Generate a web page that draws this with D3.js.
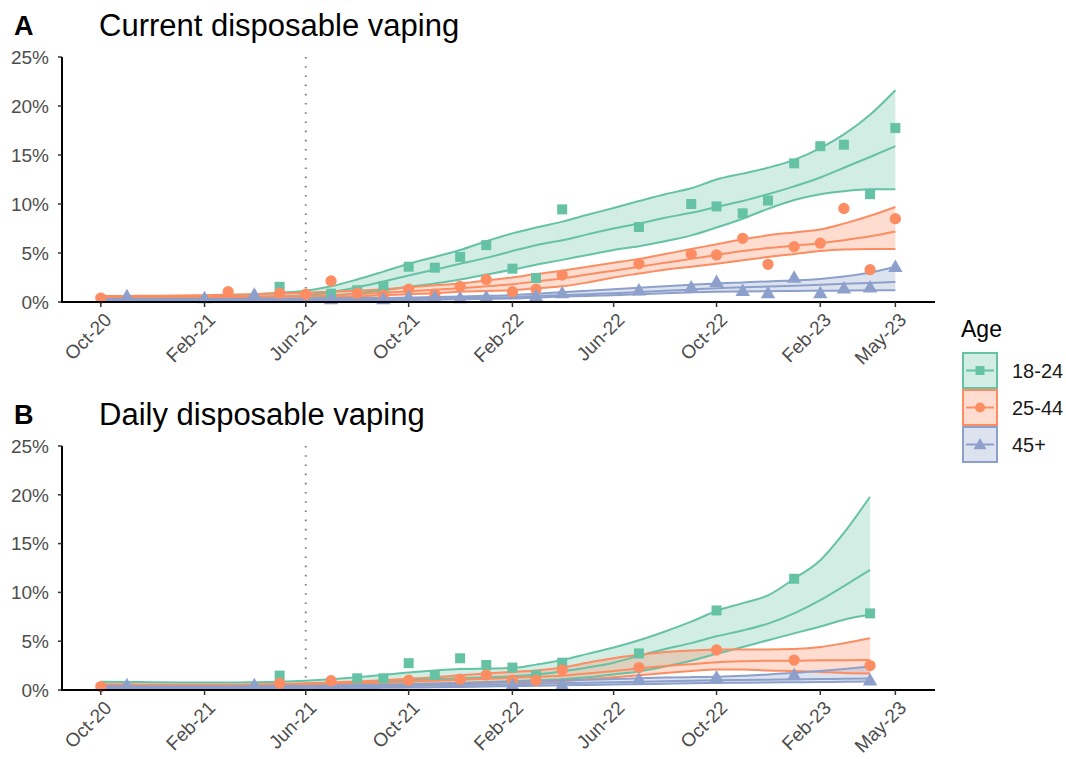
<!DOCTYPE html>
<html>
<head>
<meta charset="utf-8">
<script src="https://cdn.jsdelivr.net/npm/d3@7"></script>
<style>
  html, body { margin: 0; padding: 0; background: #fff; }
  svg { display: block; font-family: "Liberation Sans", Arial, sans-serif; }
</style>
</head>
<body>
<svg id="chart" width="1066" height="759"></svg>
<script>
// ---------------- DATA ----------------
// monthly time points, Oct-20 (index 0) .. May-23 (index 31)
const startMonth = "2020-10";
const tickLabels = ["Oct-20","Feb-21","Jun-21","Oct-21","Feb-22","Jun-22","Oct-22","Feb-23","May-23"];
const yTicks = [0, 5, 10, 15, 20, 25];
const ageGroups = ["18-24", "25-44", "45+"];
const ageColors = ["#66c2a5", "#fc8d62", "#8da0cb"];
const panelTitles = ["Current disposable vaping", "Daily disposable vaping"];
const panelLetters = ["A", "B"];
const policyMarker = "Jun-21";

// Panel A: current disposable vaping (%) — model fit, lower & upper CI
const curFit1824 = [0.3,0.3,0.3,0.32,0.35,0.4,0.45,0.55,0.7,1.0,1.5,2.1,2.7,3.3,3.9,4.5,5.2,5.8,6.3,6.9,7.5,8.0,8.6,9.1,9.7,10.3,11.0,11.8,12.7,13.7,14.8,15.9];
const curLo1824  = [0.15,0.15,0.15,0.16,0.18,0.2,0.23,0.28,0.4,0.6,0.9,1.2,1.55,1.9,2.3,2.8,3.3,3.8,4.3,4.8,5.3,5.7,6.2,6.8,7.6,8.5,9.5,10.4,11.0,11.3,11.5,11.5];
const curHi1824  = [0.5,0.5,0.5,0.55,0.6,0.7,0.8,0.95,1.15,1.6,2.3,3.1,3.9,4.6,5.3,6.2,7.0,7.6,8.2,8.9,9.6,10.3,11.0,11.6,12.5,13.1,13.7,14.5,15.7,17.1,19.1,21.6];
const curFit2544 = [0.45,0.46,0.47,0.48,0.5,0.52,0.55,0.58,0.62,0.7,0.8,0.95,1.1,1.25,1.4,1.6,1.8,2.1,2.4,2.8,3.2,3.6,4.0,4.4,4.8,5.2,5.5,5.75,6.0,6.3,6.7,7.2];
const curLo2544  = [0.3,0.3,0.31,0.32,0.33,0.34,0.35,0.36,0.38,0.45,0.55,0.68,0.8,0.9,1.05,1.12,1.2,1.4,1.6,2.0,2.5,2.9,3.3,3.6,3.9,4.25,4.6,4.9,5.2,5.35,5.4,5.4];
const curHi2544  = [0.6,0.62,0.64,0.66,0.7,0.74,0.8,0.87,0.95,1.05,1.15,1.3,1.5,1.7,1.9,2.2,2.5,2.85,3.2,3.6,4.0,4.4,4.9,5.4,5.9,6.4,6.8,7.1,7.4,8.0,8.8,9.7];
const curFit45   = [0.2,0.2,0.2,0.2,0.2,0.2,0.21,0.21,0.22,0.24,0.26,0.28,0.3,0.35,0.4,0.45,0.5,0.6,0.7,0.8,0.9,1.02,1.14,1.27,1.4,1.5,1.58,1.66,1.75,1.85,1.95,2.05];
const curLo45    = [0.1,0.1,0.1,0.1,0.1,0.1,0.11,0.11,0.12,0.14,0.16,0.18,0.2,0.24,0.28,0.32,0.35,0.45,0.55,0.62,0.7,0.8,0.9,0.98,1.05,1.08,1.1,1.13,1.15,1.17,1.19,1.2];
const curHi45    = [0.3,0.3,0.3,0.3,0.3,0.31,0.32,0.33,0.35,0.37,0.4,0.42,0.45,0.5,0.56,0.63,0.7,0.85,1.0,1.15,1.3,1.45,1.6,1.75,1.9,2.0,2.1,2.2,2.35,2.6,3.0,3.6];
// observed survey estimates [month index, %]
const curObs1824 = [[7,1.55],[9,0.85],[10,1.2],[11,1.6],[12,3.6],[13,3.5],[14,4.6],[15,5.8],[16,3.4],[17,2.45],[18,9.45],[21,7.65],[23,10.0],[24,9.75],[25,9.05],[26,10.35],[27,14.15],[28,15.9],[29,16.05],[30,11.0],[31,17.75]];
const curObs2544 = [[0,0.4],[5,1.05],[7,0.9],[8,0.8],[9,2.15],[10,0.9],[11,0.7],[12,1.3],[13,0.8],[14,1.6],[15,2.3],[16,1.05],[17,1.3],[18,2.75],[21,3.9],[23,4.9],[24,4.8],[25,6.5],[26,3.85],[27,5.65],[28,6.0],[29,9.55],[30,3.3],[31,8.5]];
const curObs45   = [[1,0.6],[4,0.4],[6,0.75],[9,0.3],[11,0.3],[12,0.5],[13,0.5],[14,0.4],[15,0.5],[17,0.6],[18,0.9],[21,1.2],[23,1.5],[24,2.05],[25,1.15],[26,0.9],[27,2.5],[28,0.9],[29,1.4],[30,1.5],[31,3.6]];

// Panel B: daily disposable vaping (%) — Oct-20 .. Apr-23
const dayFit1824 = [0.5,0.48,0.46,0.45,0.45,0.45,0.46,0.5,0.55,0.65,0.75,0.9,1.0,1.1,1.2,1.3,1.4,1.6,1.9,2.3,2.8,3.5,4.2,4.8,5.5,6.1,6.8,7.85,9.2,10.65,12.3];
const dayLo1824  = [0.3,0.28,0.27,0.26,0.25,0.25,0.26,0.28,0.3,0.35,0.4,0.45,0.5,0.6,0.7,0.8,0.9,1.0,1.1,1.3,1.6,1.9,2.4,3.0,3.7,4.4,5.1,5.8,6.5,7.2,7.7];
const dayHi1824  = [0.85,0.82,0.8,0.78,0.77,0.77,0.8,0.85,0.95,1.1,1.3,1.55,1.8,2.0,2.15,2.2,2.25,2.6,3.07,3.7,4.35,5.1,6.0,7.0,8.1,8.9,9.7,11.4,13.3,16.1,19.8];
const dayFit2544 = [0.4,0.38,0.37,0.36,0.36,0.37,0.4,0.45,0.5,0.58,0.66,0.75,0.85,0.95,1.05,1.15,1.25,1.35,1.45,1.7,1.95,2.2,2.45,2.65,2.85,2.95,3.0,3.0,3.05,3.05,3.07];
const dayLo2544  = [0.25,0.24,0.23,0.22,0.22,0.23,0.25,0.28,0.32,0.38,0.44,0.5,0.56,0.62,0.68,0.74,0.8,0.85,0.9,1.1,1.3,1.5,1.75,1.95,2.1,2.1,2.0,1.95,1.85,1.75,1.7];
const dayHi2544  = [0.6,0.58,0.56,0.55,0.55,0.55,0.58,0.62,0.68,0.78,0.88,1.0,1.15,1.3,1.5,1.7,1.85,2.0,2.3,2.8,3.25,3.6,3.9,4.05,4.15,4.15,4.15,4.2,4.4,4.8,5.3];
const dayFit45   = [0.25,0.24,0.23,0.23,0.23,0.23,0.24,0.25,0.27,0.3,0.33,0.37,0.41,0.45,0.5,0.55,0.6,0.65,0.7,0.75,0.8,0.85,0.9,0.95,1.0,1.03,1.06,1.09,1.12,1.15,1.18];
const dayLo45    = [0.12,0.12,0.12,0.12,0.12,0.12,0.13,0.14,0.15,0.17,0.19,0.22,0.25,0.28,0.32,0.36,0.4,0.44,0.48,0.52,0.56,0.6,0.64,0.68,0.72,0.75,0.78,0.8,0.82,0.84,0.86];
const dayHi45    = [0.4,0.38,0.37,0.36,0.36,0.37,0.38,0.4,0.42,0.45,0.5,0.55,0.6,0.66,0.72,0.78,0.84,0.9,0.97,1.05,1.12,1.2,1.27,1.32,1.36,1.45,1.6,1.75,1.95,2.15,2.4];
const dayObs1824 = [[7,1.47],[10,1.2],[11,1.2],[12,2.75],[13,1.54],[14,3.25],[15,2.56],[16,2.3],[17,1.5],[18,2.8],[21,3.75],[24,8.15],[27,11.4],[30,7.85]];
const dayObs2544 = [[0,0.35],[7,0.7],[9,0.95],[12,1.0],[14,1.1],[15,1.54],[16,1.0],[17,1.0],[18,2.05],[21,2.3],[24,4.1],[27,3.07],[30,2.5]];
const dayObs45   = [[1,0.5],[6,0.5],[16,0.5],[18,0.5],[21,1.1],[24,1.3],[27,1.54],[30,1.0]];

// ---------------- BUILD ----------------
const parseMonth = d3.timeParse("%Y-%m");
const parseTick = d3.timeParse("%b-%y");
const m0 = parseMonth(startMonth);
const monthDate = i => d3.timeMonth.offset(m0, i);

const panels = [
  { fit: [curFit1824, curFit2544, curFit45], lo: [curLo1824, curLo2544, curLo45], hi: [curHi1824, curHi2544, curHi45],
    obs: [curObs1824, curObs2544, curObs45], top: 57, bottom: 302 },
  { fit: [dayFit1824, dayFit2544, dayFit45], lo: [dayLo1824, dayLo2544, dayLo45], hi: [dayHi1824, dayHi2544, dayHi45],
    obs: [dayObs1824, dayObs2544, dayObs45], top: 446, bottom: 690 }
];

const svg = d3.select("#chart");
const xLeft = 62, xRight = 935;
const x = d3.scaleTime()
  .domain([new Date(2020, 7, 16), new Date(2023, 5, 17)])
  .range([xLeft, xRight]);

const symbols = [d3.symbolSquare, d3.symbolCircle, d3.symbolTriangle];
const symSizes = [100, 100, 90];
const lw = 2;

panels.forEach((p, pi) => {
  const y = d3.scaleLinear().domain([0, 25]).range([p.bottom, p.top]);
  const g = svg.append("g");

  // titles
  svg.append("text").attr("x", 14).attr("y", p.top - 22)
    .attr("font-size", 27).attr("font-weight", "bold").attr("fill", "#000")
    .text(panelLetters[pi]);
  svg.append("text").attr("x", 99).attr("y", p.top - 21)
    .attr("font-size", 31).attr("fill", "#000")
    .text(panelTitles[pi]);

  // dotted policy line
  const xp = x(parseTick(policyMarker));
  g.append("line").attr("x1", xp).attr("x2", xp)
    .attr("y1", y(25)).attr("y2", y(0))
    .attr("stroke", "#808080").attr("stroke-width", 2)
    .attr("stroke-dasharray", "1.6,7.6");

  const area = d3.area().curve(d3.curveMonotoneX)
    .x((d, i) => x(monthDate(i)));
  const line = d3.line().curve(d3.curveMonotoneX)
    .x((d, i) => x(monthDate(i))).y(d => y(d));

  // ribbons
  ageGroups.forEach((a, k) => {
    const lo = p.lo[k], hi = p.hi[k];
    g.append("path")
      .datum(lo.map((v, i) => [v, hi[i]]))
      .attr("d", area.y0(d => y(d[0])).y1(d => y(d[1])))
      .attr("fill", ageColors[k]).attr("fill-opacity", 0.3);
  });
  // lines
  ageGroups.forEach((a, k) => {
    [p.lo[k], p.fit[k], p.hi[k]].forEach(arr => {
      g.append("path").datum(arr).attr("d", line)
        .attr("fill", "none").attr("stroke", ageColors[k])
        .attr("stroke-width", lw);
    });
  });
  // points
  ageGroups.forEach((a, k) => {
    const sym = d3.symbol().type(symbols[k]).size(symSizes[k]);
    g.selectAll(null).data(p.obs[k]).join("path")
      .attr("d", sym)
      .attr("transform", d => `translate(${x(monthDate(d[0]))},${y(d[1]) + (k === 2 ? 1 : 0)})`)
      .attr("fill", ageColors[k]);
  });

  // y axis
  const ya = g.append("g");
  ya.append("line").attr("x1", xLeft).attr("x2", xLeft)
    .attr("y1", y(25)).attr("y2", y(0) + 1)
    .attr("stroke", "#000").attr("stroke-width", 2);
  yTicks.forEach(t => {
    ya.append("line").attr("x1", xLeft - 4).attr("x2", xLeft)
      .attr("y1", y(t)).attr("y2", y(t)).attr("stroke", "#333").attr("stroke-width", 1.5);
    ya.append("text").attr("x", xLeft - 13).attr("y", y(t)).attr("dy", "0.36em")
      .attr("text-anchor", "end").attr("font-size", 19).attr("fill", "#4d4d4d")
      .text(t + "%");
  });

  // x axis
  const xa = g.append("g");
  xa.append("line").attr("x1", xLeft - 1).attr("x2", xRight)
    .attr("y1", y(0)).attr("y2", y(0))
    .attr("stroke", "#000").attr("stroke-width", 2);
  tickLabels.forEach(lbl => {
    const xt = x(parseTick(lbl));
    xa.append("line").attr("x1", xt).attr("x2", xt)
      .attr("y1", y(0)).attr("y2", y(0) + 5)
      .attr("stroke", "#333").attr("stroke-width", 1.5);
    xa.append("text")
      .attr("transform", `translate(${xt + 12},${y(0) + 19}) rotate(-45)`)
      .attr("text-anchor", "end").attr("font-size", 19).attr("fill", "#4d4d4d")
      .text(lbl);
  });
});

// legend
const lg = svg.append("g");
lg.append("text").attr("x", 961).attr("y", 337).attr("font-size", 23).attr("fill", "#000").text("Age");
ageGroups.forEach((a, k) => {
  const by = 353 + k * 37;
  lg.append("rect").attr("x", 963).attr("y", by).attr("width", 34).attr("height", 35)
    .attr("fill", ageColors[k]).attr("fill-opacity", 0.3)
    .attr("stroke", ageColors[k]).attr("stroke-width", 2);
  lg.append("line").attr("x1", 966).attr("x2", 994).attr("y1", by + 17.5).attr("y2", by + 17.5)
    .attr("stroke", ageColors[k]).attr("stroke-width", lw);
  lg.append("path").attr("d", d3.symbol().type(symbols[k]).size(symSizes[k] * 0.8)())
    .attr("transform", `translate(980,${by + 17.5 + (k === 2 ? 1 : 0)})`)
    .attr("fill", ageColors[k]);
  lg.append("text").attr("x", 1012).attr("y", by + 17.5).attr("dy", "0.36em")
    .attr("font-size", 20).attr("fill", "#1a1a1a").text(a);
});
</script>
</body>
</html>
